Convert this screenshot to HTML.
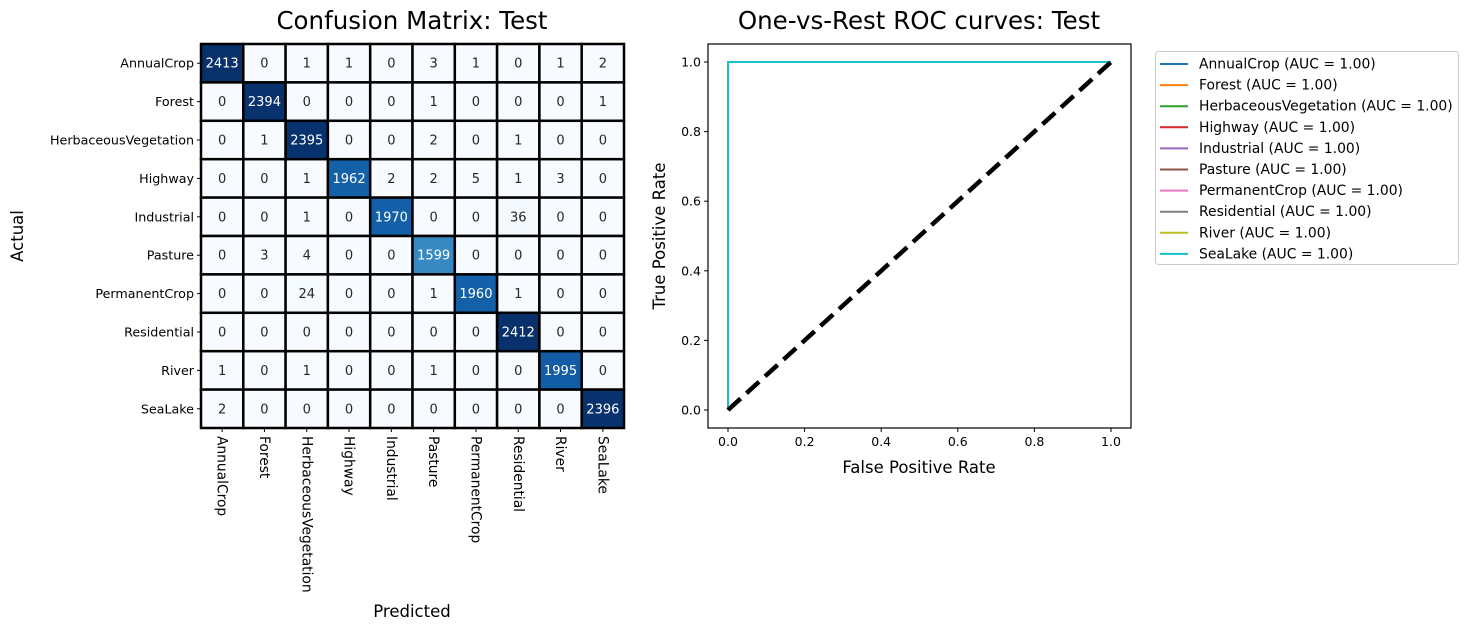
<!DOCTYPE html>
<html><head><meta charset="utf-8"><style>
html,body{margin:0;padding:0;background:#fff;}
svg{display:block;font-family:"DejaVu Sans","Liberation Sans",sans-serif;}
</style></head><body>
<svg id="c" width="1468" height="630" xmlns="http://www.w3.org/2000/svg"></svg>
<script>
const classes=["AnnualCrop","Forest","HerbaceousVegetation","Highway","Industrial","Pasture","PermanentCrop","Residential","River","SeaLake"];
const matrix=[
[2413,0,1,1,0,3,1,0,1,2],
[0,2394,0,0,0,1,0,0,0,1],
[0,1,2395,0,0,2,0,1,0,0],
[0,0,1,1962,2,2,5,1,3,0],
[0,0,1,0,1970,0,0,36,0,0],
[0,3,4,0,0,1599,0,0,0,0],
[0,0,24,0,0,1,1960,1,0,0],
[0,0,0,0,0,0,0,2412,0,0],
[1,0,1,0,0,1,0,0,1995,0],
[2,0,0,0,0,0,0,0,0,2396]];
const aucs=[1.00,1.00,1.00,1.00,1.00,1.00,1.00,1.00,1.00,1.00];
const rocFpr=[0,0,1];
const rocTpr=[0,1,1];
const xTicks=[0,0.2,0.4,0.6,0.8,1.0];
const yTicks=[0,0.2,0.4,0.6,0.8,1.0];
const colors=["#1f77b4","#ff7f0e","#2ca02c","#d62728","#9467bd","#8c564b","#e377c2","#7f7f7f","#bcbd22","#17becf"];

const S=document.getElementById('c');const NS="http://www.w3.org/2000/svg";
function mk(t,a,p){const e=document.createElementNS(NS,t);for(const k in a)e.setAttribute(k,a[k]);(p||S).appendChild(e);return e;}
function tx(x,y,s,a,p){const e=mk('text',Object.assign({x:x,y:y},a),p);e.textContent=s;return e;}
const blues=["#f7fbff","#deebf7","#c6dbef","#9ecae1","#6baed6","#4292c6","#2171b5","#08519c","#08306b"];
function hx(h){return [1,3,5].map(i=>parseInt(h.substr(i,2),16));}
function cmap(t){t=Math.max(0,Math.min(1,t))*8;const i=Math.min(7,Math.floor(t));const f=t-i;const a=hx(blues[i]),b=hx(blues[i+1]);return "rgb("+a.map((v,k)=>Math.round(v+(b[k]-v)*f)).join(",")+")";}
let vmax=0;matrix.forEach(r=>r.forEach(v=>vmax=Math.max(vmax,v)));

// Confusion matrix
const gx=201,gy=44,gw=423,gh=384,n=classes.length,cw=gw/n,ch=gh/n;
tx(412,29,"Confusion Matrix: Test",{"font-size":"24.5","text-anchor":"middle",fill:"#000",});
const cm=mk('g',{});
matrix.forEach((row,i)=>row.forEach((v,j)=>{
 const t=v/vmax;
 const r=mk('rect',{x:gx+j*cw,y:gy+i*ch,width:cw,height:ch,fill:cmap(t),stroke:"#000","stroke-width":"2.5"},cm);
 
 
 const l=tx(gx+j*cw+cw/2,gy+i*ch+ch/2+4.5,String(v),{"font-size":"13","text-anchor":"middle",fill:t>0.5?"#fff":"#262626"},cm);
 
 
}));
classes.forEach((c,i)=>{
 const y=gy+i*ch+ch/2;
 mk('line',{x1:gx-4,y1:y,x2:gx,y2:y,stroke:"#000"});
 const l=tx(gx-7,y+4.5,c,{"font-size":"12.7","text-anchor":"end",fill:"#000"});
 
 
 const x=gx+i*cw+cw/2;
 mk('line',{x1:x,y1:gy+gh,x2:x,y2:gy+gh+4,stroke:"#000"});
 const m=tx(x-4.5,gy+gh+8,c,{"font-size":"13.8","text-anchor":"start",fill:"#000",transform:"rotate(90 "+(x-4.5)+" "+(gy+gh+8)+")"});
 
 
});
tx(412,617,"Predicted",{"font-size":"16.5","text-anchor":"middle",});
tx(23,236,"Actual",{"font-size":"16.5","text-anchor":"middle",transform:"rotate(-90 23 236)",});

// ROC
const ax=708,ay=44,aw=423,ah=384;
const X=v=>728+v*(1111-728), Y=v=>410-v*(410-62);
tx(919,29,"One-vs-Rest ROC curves: Test",{"font-size":"24.5","text-anchor":"middle",});
mk('rect',{x:ax,y:ay,width:aw,height:ah,fill:"#fff",stroke:"none"});
xTicks.forEach(v=>{mk('line',{x1:X(v),y1:ay+ah,x2:X(v),y2:ay+ah+4,stroke:"#000"});
 const l=tx(X(v),ay+ah+18,v.toFixed(1),{"font-size":"12.5","text-anchor":"middle"});});
yTicks.forEach(v=>{mk('line',{x1:ax-4,y1:Y(v),x2:ax,y2:Y(v),stroke:"#000"});
 const l=tx(ax-7,Y(v)+4.5,v.toFixed(1),{"font-size":"12.5","text-anchor":"end"});});
classes.forEach((c,i)=>{
 const p=mk('polyline',{points:rocFpr.map((f,k)=>X(f)+","+Y(rocTpr[k])).join(" "),fill:"none",stroke:colors[i],"stroke-width":"2"});
 
 
});
mk('line',{x1:X(0),y1:Y(0),x2:X(1),y2:Y(1),stroke:"#000","stroke-width":"4.5","stroke-dasharray":"17 8",});
mk('rect',{x:ax,y:ay,width:aw,height:ah,fill:"none",stroke:"#000","stroke-width":"1.2",});
tx(919,473,"False Positive Rate",{"font-size":"16.5","text-anchor":"middle",});
tx(665,236,"True Positive Rate",{"font-size":"16.5","text-anchor":"middle",transform:"rotate(-90 665 236)",});
const lg=mk('g',{});
mk('rect',{x:1155.5,y:51.5,width:303,height:213,rx:3,fill:"#fff",stroke:"#ccc"},lg);
classes.forEach((c,i)=>{
 const y=64+i*21.1;
 mk('line',{x1:1160,y1:y,x2:1188,y2:y,stroke:colors[i],"stroke-width":"2"},lg);
 const l=tx(1199,y+4.5,c+" (AUC = "+aucs[i].toFixed(2)+")",{"font-size":"13.9"},lg);
 
 
});
</script>
</body></html>
